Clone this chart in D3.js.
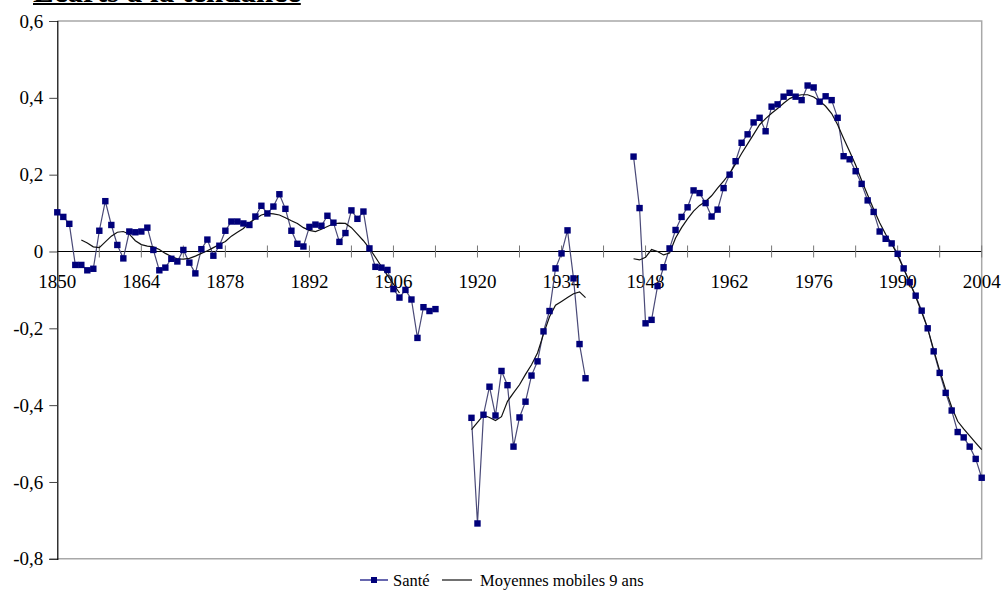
<!DOCTYPE html>
<html><head><meta charset="utf-8">
<script src="https://cdn.jsdelivr.net/npm/d3@7"></script>
<style>body{margin:0;background:#fff;} svg{display:block;font-family:"Liberation Serif","Times New Roman",serif;}</style>
</head><body><svg id="c" width="1003" height="612"></svg>
<script>
const title = "Ecarts à la tendance";
const seriesNames = ["Santé", "Moyennes mobiles 9 ans"];
const yTicks = [0.6, 0.4, 0.2, 0, -0.2, -0.4, -0.6, -0.8];
const xLabelYears = [1850,1864,1878,1892,1906,1920,1934,1948,1962,1976,1990,2004];

// Santé: [year, value]
const sante = [
[1850,0.102],[1851,0.090],[1852,0.072],[1853,-0.035],[1854,-0.035],[1855,-0.049],[1856,-0.045],[1857,0.054],[1858,0.131],[1859,0.069],
[1860,0.017],[1861,-0.018],[1862,0.052],[1863,0.050],[1864,0.052],[1865,0.062],[1866,0.004],[1867,-0.049],[1868,-0.042],[1869,-0.019],
[1870,-0.026],[1871,0.004],[1872,-0.029],[1873,-0.057],[1874,0.006],[1875,0.031],[1876,-0.011],[1877,0.015],[1878,0.054],[1879,0.078],
[1880,0.078],[1881,0.073],[1882,0.069],[1883,0.091],[1884,0.119],[1885,0.099],[1886,0.117],[1887,0.149],[1888,0.111],[1889,0.054],
[1890,0.020],[1891,0.013],[1892,0.064],[1893,0.070],[1894,0.067],[1895,0.093],[1896,0.075],[1897,0.025],[1898,0.048],[1899,0.107],
[1900,0.085],[1901,0.104],[1902,0.008],[1903,-0.040],[1904,-0.042],[1905,-0.048],[1906,-0.098],[1907,-0.120],[1908,-0.100],[1909,-0.125],
[1910,-0.225],[1911,-0.145],[1912,-0.155],[1913,-0.150],
[1914,null],
[1919,-0.433],[1920,-0.708],[1921,-0.425],[1922,-0.352],[1923,-0.427],[1924,-0.311],[1925,-0.348],[1926,-0.508],[1927,-0.432],[1928,-0.391],
[1929,-0.323],[1930,-0.286],[1931,-0.208],[1932,-0.155],[1933,-0.044],[1934,-0.005],[1935,0.055],[1936,-0.070],[1937,-0.241],[1938,-0.330],
[1939,null],
[1946,0.247],[1947,0.113],[1948,-0.187],[1949,-0.178],[1950,-0.090],[1951,-0.041],[1952,0.008],[1953,0.056],[1954,0.090],[1955,0.115],
[1956,0.159],[1957,0.152],[1958,0.126],[1959,0.091],[1960,0.109],[1961,0.165],[1962,0.200],[1963,0.235],[1964,0.283],[1965,0.305],
[1966,0.336],[1967,0.348],[1968,0.313],[1969,0.377],[1970,0.383],[1971,0.403],[1972,0.413],[1973,0.403],[1974,0.394],[1975,0.432],
[1976,0.427],[1977,0.390],[1978,0.404],[1979,0.394],[1980,0.348],[1981,0.248],[1982,0.240],[1983,0.209],[1984,0.176],[1985,0.133],
[1986,0.103],[1987,0.052],[1988,0.033],[1989,0.021],[1990,-0.006],[1991,-0.044],[1992,-0.080],[1993,-0.115],[1994,-0.154],[1995,-0.200],
[1996,-0.260],[1997,-0.316],[1998,-0.368],[1999,-0.414],[2000,-0.470],[2001,-0.484],[2002,-0.508],[2003,-0.540],[2004,-0.589]
];

// Moyennes mobiles 9 ans: [year, value]
const moyenne = [
[1854,0.030],[1855,0.022],[1856,0.012],[1857,0.010],[1858,0.025],[1859,0.040],[1860,0.050],[1861,0.052],[1862,0.045],[1863,0.028],
[1864,0.018],[1865,0.014],[1866,0.012],[1867,0.005],[1868,-0.005],[1869,-0.013],[1870,-0.019],[1871,-0.020],[1872,-0.018],[1873,-0.012],
[1874,-0.005],[1875,0.002],[1876,0.010],[1877,0.018],[1878,0.026],[1879,0.040],[1880,0.050],[1881,0.060],[1882,0.075],[1883,0.085],
[1884,0.095],[1885,0.099],[1886,0.098],[1887,0.095],[1888,0.088],[1889,0.080],[1890,0.073],[1891,0.062],[1892,0.055],[1893,0.052],
[1894,0.058],[1895,0.065],[1896,0.072],[1897,0.074],[1898,0.073],[1899,0.062],[1900,0.045],[1901,0.028],[1902,0.008],[1903,-0.015],
[1904,-0.039],[1905,-0.062],[1906,-0.085],[1907,-0.108],
[1908,null],
[1919,-0.464],[1920,-0.445],[1921,-0.426],[1922,-0.432],[1923,-0.440],[1924,-0.430],[1925,-0.390],[1926,-0.368],[1927,-0.347],[1928,-0.320],
[1929,-0.295],[1930,-0.264],[1931,-0.215],[1932,-0.170],[1933,-0.140],[1934,-0.130],[1935,-0.120],[1936,-0.110],[1937,-0.105],[1938,-0.120],
[1939,null],
[1946,-0.019],[1947,-0.022],[1948,-0.015],[1949,0.005],[1950,0.000],[1951,-0.009],[1952,-0.004],[1953,0.035],[1954,0.062],[1955,0.085],
[1956,0.105],[1957,0.120],[1958,0.130],[1959,0.145],[1960,0.165],[1961,0.183],[1962,0.203],[1963,0.228],[1964,0.255],[1965,0.280],
[1966,0.305],[1967,0.330],[1968,0.346],[1969,0.360],[1970,0.372],[1971,0.386],[1972,0.398],[1973,0.405],[1974,0.408],[1975,0.408],
[1976,0.402],[1977,0.392],[1978,0.378],[1979,0.359],[1980,0.330],[1981,0.294],[1982,0.260],[1983,0.225],[1984,0.185],[1985,0.147],
[1986,0.110],[1987,0.075],[1988,0.045],[1989,0.020],[1990,-0.010],[1991,-0.045],[1992,-0.080],[1993,-0.118],[1994,-0.158],[1995,-0.200],
[1996,-0.256],[1997,-0.310],[1998,-0.360],[1999,-0.405],[2000,-0.442],[2001,-0.462],[2002,-0.480],[2003,-0.498],[2004,-0.516]
];

const svg = d3.select("#c");
const L = 57.3, R = 981.7, T = 21, B = 558.8;
const x = d3.scaleLinear().domain([1850, 2004]).range([L, R]);
const y = d3.scaleLinear().domain([-0.8, 0.6]).range([B, T]);
const fmt = d => d === 0 ? "0" : d3.format(".1f")(d).replace(".", ",").replace("−","-");

// Title (clipped at top)
const tt = svg.append("text").attr("x", 33).attr("y", 2).attr("font-size", 31).attr("font-weight", "bold")
  .attr("fill", "#000").text(title);
const tw = tt.node().getComputedTextLength();
svg.append("line").attr("x1", 33).attr("x2", 33 + tw).attr("y1", 4).attr("y2", 4).attr("stroke", "#000").attr("stroke-width", 2);

// plot border (top, right, bottom)
svg.append("path").attr("d", `M${L},${T}H${R}V${B}H${L}`).attr("fill", "none").attr("stroke", "#a8a8a8").attr("stroke-width", 1.5);

// Y axis
const yAxis = d3.axisLeft(y).tickValues(yTicks).tickSize(8).tickPadding(6).tickFormat(fmt);
const gy = svg.append("g").attr("transform", `translate(${L},0)`).call(yAxis);
gy.select(".domain").attr("stroke", "#000").attr("stroke-width", 1.2);
gy.selectAll(".tick line").attr("stroke", "#444");
gy.selectAll(".tick text").attr("font-size", 19).attr("font-family", "Liberation Serif, Times New Roman, serif").attr("fill", "#000");

// X axis at y=0 with ticks every 7 years crossing the axis
const xAxisTicks = d3.range(1857, 2005, 7);
const gx = svg.append("g").attr("transform", `translate(0,${y(0)})`);
gx.append("line").attr("x1", L).attr("x2", R).attr("stroke", "#000").attr("stroke-width", 1.2);
gx.selectAll("line.tk").data(xAxisTicks).join("line").attr("class", "tk")
  .attr("x1", d => x(d)).attr("x2", d => x(d)).attr("y1", -6).attr("y2", 6).attr("stroke", "#777").attr("stroke-width", 1);
gx.selectAll("text").data(xLabelYears).join("text")
  .attr("x", d => x(d)).attr("y", 37).attr("text-anchor", "middle").attr("font-size", 19).attr("fill", "#000").text(d => d);

// Santé line + markers
const pts = sante.map(d => ({yr: d[0], v: d[1]}));
const line = d3.line().defined(d => d.v != null).x(d => x(d.yr)).y(d => y(d.v));
svg.append("path").datum(pts).attr("d", line).attr("fill", "none").attr("stroke", "#4a4a78").attr("stroke-width", 1.2);

const ma = moyenne.map(d => ({yr: d[0], v: d[1]}));
svg.append("path").datum(ma).attr("d", line).attr("fill", "none").attr("stroke", "#111").attr("stroke-width", 1.2);

svg.selectAll("rect.m").data(pts.filter(d => d.v != null)).join("rect").attr("class", "m")
  .attr("x", d => x(d.yr) - 3.2).attr("y", d => y(d.v) - 3.2).attr("width", 6.4).attr("height", 6.4).attr("fill", "#00007a");

// Legend
const ly = 580;
const lg = svg.append("g");
lg.append("line").attr("x1", 360).attr("x2", 388).attr("y1", ly).attr("y2", ly).attr("stroke", "#00007a").attr("stroke-width", 1.2);
lg.append("rect").attr("x", 371).attr("y", ly - 3).attr("width", 6).attr("height", 6).attr("fill", "#00007a");
lg.append("text").attr("x", 393).attr("y", ly + 6).attr("font-size", 16.5).text(seriesNames[0]);
lg.append("line").attr("x1", 442).attr("x2", 472).attr("y1", ly).attr("y2", ly).attr("stroke", "#111").attr("stroke-width", 1.2);
lg.append("text").attr("x", 480).attr("y", ly + 6).attr("font-size", 16.5).text(seriesNames[1]);
</script></body></html>
